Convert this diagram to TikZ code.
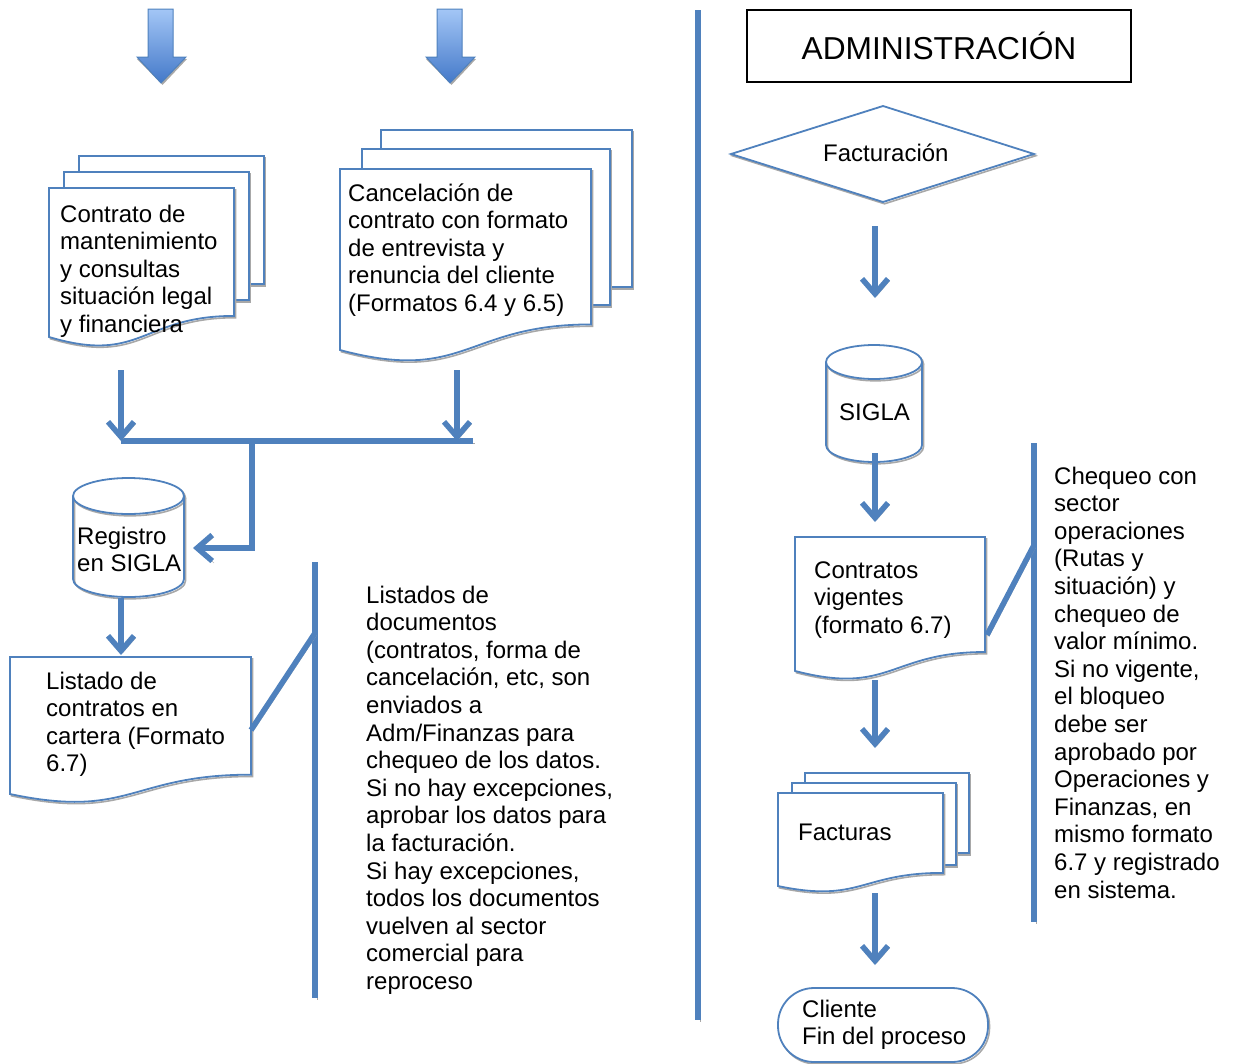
\documentclass[tikz,border=0pt]{standalone}
\usepackage{fontspec}
\setmainfont{Liberation Sans}
\usetikzlibrary{arrows.meta}
\definecolor{ob}{HTML}{4F81BD}
\definecolor{shd}{HTML}{A8A8A8}
\definecolor{atop}{HTML}{A3C6F6}
\definecolor{abot}{HTML}{4479C9}
\newcommand\mlines[1]{\begin{tabular}[t]{@{}l@{}}#1\end{tabular}}
\newcommand\docshape[4]{%
 \draw[docsh] (#1,#2) -- ({#1+#3},#2) -- ({#1+#3},{#2+0.802*#4}) .. controls ({#1+0.5*#3},{#2+0.802*#4}) and ({#1+0.5*#3},{#2+1.1075*#4}) .. (#1,{#2+0.934*#4}) -- cycle;
 \draw[docst] (#1,#2) -- ({#1+#3},#2) -- ({#1+#3},{#2+0.802*#4}) .. controls ({#1+0.5*#3},{#2+0.802*#4}) and ({#1+0.5*#3},{#2+1.1075*#4}) .. (#1,{#2+0.934*#4}) -- cycle;}
\newcommand\pagerect[4]{%
 \draw[docsh] (#1,#2) rectangle (#3,#4);
 \draw[docst] (#1,#2) rectangle (#3,#4);}
\newcommand\cylshape[5]{% cx rx top bot ry
 \fill[white] ({#1-#2},{#3+#5}) -- ({#1-#2},{#4-#5}) .. controls ({#1-#2},{#4-0.448*#5}) and ({#1-0.552*#2},#4) .. (#1,#4) .. controls ({#1+0.552*#2},#4) and ({#1+#2},{#4-0.448*#5}) .. ({#1+#2},{#4-#5}) -- ({#1+#2},{#3+#5}) -- cycle;
 \draw[docsh] ({#1-#2},{#3+#5}) -- ({#1-#2},{#4-#5}) .. controls ({#1-#2},{#4-0.448*#5}) and ({#1-0.552*#2},#4) .. (#1,#4) .. controls ({#1+0.552*#2},#4) and ({#1+#2},{#4-0.448*#5}) .. ({#1+#2},{#4-#5}) -- ({#1+#2},{#3+#5});
 \draw[docsh] (#1,{#3+#5}) ellipse [x radius=#2pt, y radius=#5pt];
 \draw[docst,fill=none] ({#1-#2},{#3+#5}) -- ({#1-#2},{#4-#5}) .. controls ({#1-#2},{#4-0.448*#5}) and ({#1-0.552*#2},#4) .. (#1,#4) .. controls ({#1+0.552*#2},#4) and ({#1+#2},{#4-0.448*#5}) .. ({#1+#2},{#4-#5}) -- ({#1+#2},{#3+#5});
 \draw[docst] (#1,{#3+#5}) ellipse [x radius=#2pt, y radius=#5pt];}
\newcommand\blockarrow[1]{% center x
 \fill[shd] ({#1-11.5},59) -- ({#1-24},59) -- ({#1+1.5},85) -- ({#1+26},59) -- ({#1+13.5},59) -- cycle;
 \path[top color=atop, bottom color=abot, draw=ob, line width=1pt] ({#1-13},9) -- ({#1+12},9) -- ({#1+12},57) -- ({#1+25},57) -- (#1,83) -- ({#1-24},57) -- ({#1-13},57) -- cycle;}
\begin{document}
\begin{tikzpicture}[x=1pt,y=-1pt,
  docst/.style={draw=ob, line width=1.8pt, fill=white, line join=miter},
  docsh/.style={draw=shd, line width=1.6pt, shift={(1.5,1.8)}},
  conn/.style={draw=ob, line width=5.5pt, -{Straight Barb[length=15pt,width=26pt]},
     preaction={draw=shd, transform canvas={shift={(1.8pt,-2pt)}}}},
  bar/.style={draw=ob, line width=5.5pt,
     preaction={draw=shd, transform canvas={shift={(1.8pt,-2pt)}}}},
  txt/.style={anchor=base west, inner sep=0pt, font=\fontsize{24}{27.6}\selectfont, text=black}]
\useasboundingbox (0,0) rectangle (1233,1063);
\clip (0,0) rectangle (1233,1063);

% top block arrows
\blockarrow{161}
\blockarrow{450}

% left multidocument
\pagerect{79}{156}{264}{284}
\pagerect{64}{172}{249}{300}
\docshape{49}{188}{185}{159.5}
\node[txt] (t1) at (60,222) {\mlines{Contrato de\\mantenimiento\\y consultas\\situación legal\\y financiera}};

% right multidocument
\pagerect{381}{130}{632}{287}
\pagerect{362}{149}{610}{305}
\docshape{340}{169}{251}{193.8}
\node[txt] (t2) at (348,201) {\mlines{Cancelación de\\contrato con formato\\de entrevista y\\renuncia del cliente\\(Formatos 6.4 y 6.5)}};

% connectors into junction
\coordinate (d1b) at (121,370); \coordinate (j1) at (121,441);
\coordinate (d2b) at (457,370); \coordinate (j2) at (457,441);
\coordinate (jr) at (473,441); \coordinate (jm) at (252,441);
\coordinate (c1in) at (193,548);
\draw[bar] (j1) -- (jr);
\draw[conn] (d1b) -- (j1);
\draw[conn] (d2b) -- (j2);
\draw[conn] (jm) |- (c1in);

% cylinder registro
\cylshape{128.5}{55.5}{478}{597}{18}
\node[txt] (t3) at (77,544) {\mlines{Registro\\en SIGLA}};

\coordinate (c1b) at (121,598); \coordinate (d3t) at (121,655);
\draw[conn] (c1b) -- (d3t);

% listado doc
\docshape{10}{657}{241}{146.7}
\node[txt] (t4) at (46,689) {\mlines{Listado de\\contratos en\\cartera (Formato\\6.7)}};

% left annotation bracket
\coordinate (d3r) at (251,730); \coordinate (b1k) at (315,633);
\coordinate (b1t) at (315,562); \coordinate (b1b) at (315,998);
\draw[bar] (b1t) -- (b1b);
\draw[bar] (d3r) -- (b1k);
\node[txt] (t5) at (366,603) {\mlines{Listados de\\documentos\\(contratos, forma de\\cancelación, etc, son\\enviados a\\Adm/Finanzas para\\chequeo de los datos.\\Si no hay excepciones,\\aprobar los datos para\\la facturación.\\Si hay excepciones,\\todos los documentos\\vuelven al sector\\comercial para\\reproceso}};

% divider
\coordinate (divt) at (698,10); \coordinate (divb) at (698,1020);
\draw[bar] (divt) -- (divb);

% administration header
\node[draw=black, line width=1.5pt, minimum width=384pt, minimum height=72pt, inner sep=0pt,
  font=\fontsize{31.7}{36}\selectfont] (adm) at (939,46) {ADMINISTRACIÓN};

% diamond
\draw[docsh] (731,154) -- (883,106) -- (1034,154) -- (883,202) -- cycle;
\draw[docst] (731,154) -- (883,106) -- (1034,154) -- (883,202) -- cycle;
\node[txt] (t6) at (823,161) {Facturación};

\coordinate (dmb) at (875,226); \coordinate (c2t) at (875,298);
\draw[conn] (dmb) -- (c2t);

% SIGLA cylinder
\cylshape{874}{48}{345}{462}{17}
\node[txt] (t7) at (839,420) {SIGLA};

\coordinate (c2b) at (875,453); \coordinate (d4t) at (875,522);
\draw[conn] (c2b) -- (d4t);

% contratos vigentes
\docshape{795}{537}{190}{143.4}
\node[txt] (t8) at (814,578) {\mlines{Contratos\\vigentes\\(formato 6.7)}};

% right bracket
\coordinate (d4r) at (987,635); \coordinate (b2k) at (1034,545);
\coordinate (b2t) at (1034,443); \coordinate (b2b) at (1034,922);
\draw[bar] (b2t) -- (b2b);
\draw[bar] (d4r) -- (b2k);
\node[txt] (t9) at (1054,484) {\mlines{Chequeo con\\sector\\operaciones\\(Rutas y\\situación) y\\chequeo de\\valor mínimo.\\Si no vigente,\\el bloqueo\\debe ser\\aprobado por\\Operaciones y\\Finanzas, en\\mismo formato\\6.7 y registrado\\en sistema.}};

\coordinate (d4b) at (875,680); \coordinate (d5t) at (875,748);
\draw[conn] (d4b) -- (d5t);

% facturas multidoc
\pagerect{805}{773}{969}{853}
\pagerect{792}{783}{956}{865}
\docshape{778}{793}{165}{99.6}
\node[txt] (t10) at (798,840) {Facturas};

\coordinate (d5b) at (875,893); \coordinate (tt) at (875,965);
\draw[conn] (d5b) -- (tt);

% terminal
\draw[docsh, rounded corners=36pt] (778,988) rectangle (988,1062);
\draw[docst, rounded corners=36pt] (778,988) rectangle (988,1062);
\node[txt] (t11) at (802,1017) {\mlines{Cliente\\Fin del proceso}};
\end{tikzpicture}
\end{document}
